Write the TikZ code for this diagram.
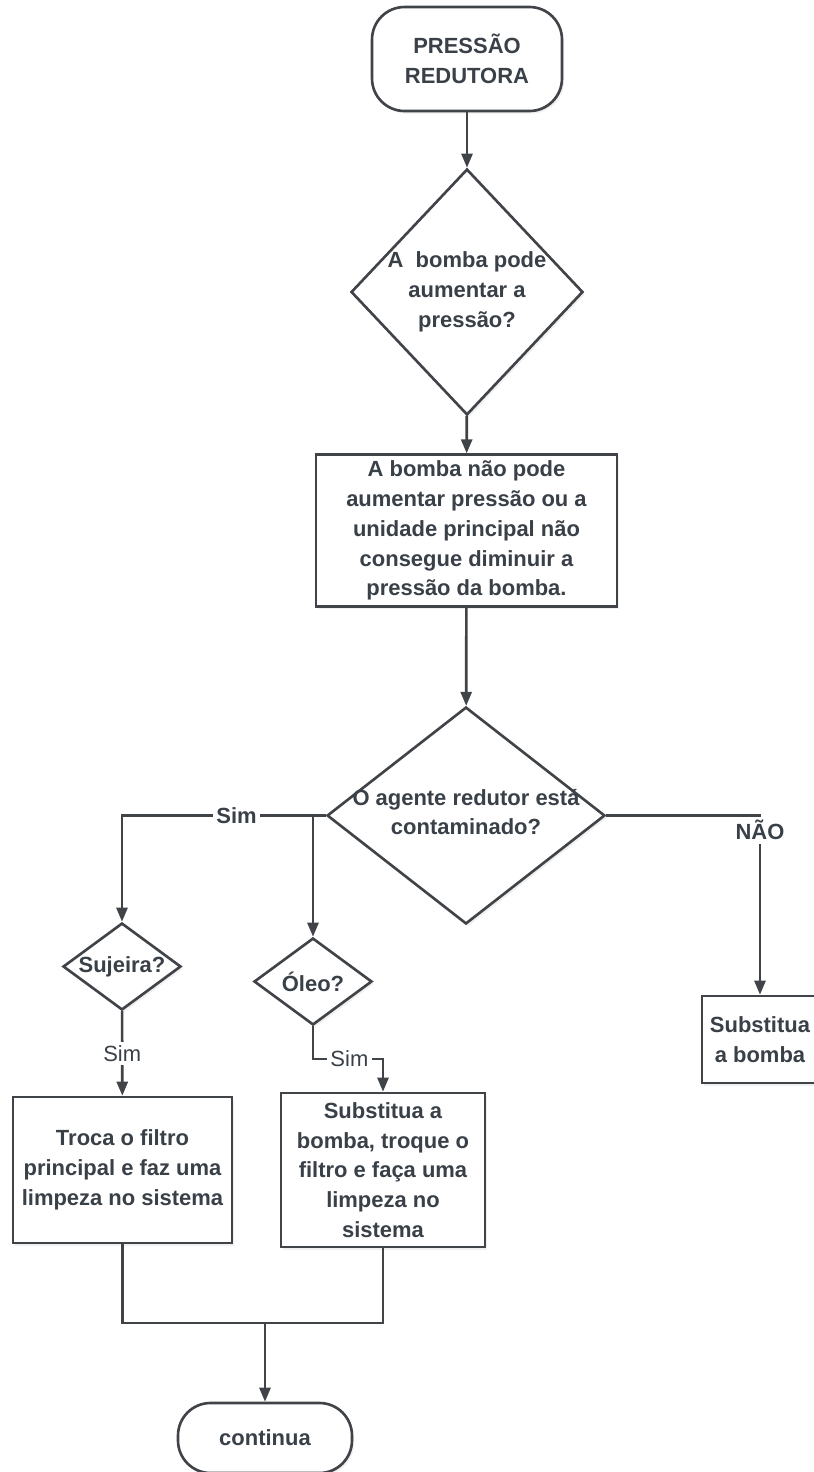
\documentclass[tikz,border=0pt]{standalone}
\usepackage{fontspec}
\setmainfont{Liberation Sans}
\usetikzlibrary{shapes.geometric,arrows.meta,shadows}
\definecolor{linegray}{HTML}{404347}
\definecolor{textgray}{HTML}{3A4048}
\newcommand{\chartfont}{\fontsize{12.5}{17}\selectfont}
\begin{document}
\begin{tikzpicture}[x=0.02cm,y=-0.02cm,
    link/.style = {line width=1.5pt,draw=linegray},
    arrow/.style = {link,-{Triangle[length=0.28cm,width=0.22cm]}},
    shade/.style = {drop shadow={opacity=0.12,shadow xshift=1.2pt,shadow yshift=-1.5pt}},
    terminal/.style = {draw=linegray,line width=1.5pt,fill=white,shade,rounded corners=0.65cm,
        align=center,text=textgray,font=\chartfont\bfseries},
    process/.style = {draw=linegray,line width=1.5pt,fill=white,shade,
        align=center,text=textgray,font=\chartfont\bfseries},
    decision/.style = {diamond,draw=linegray,line width=1.5pt,fill=white,shade,inner sep=0pt},
    qtext/.style = {align=center,text=textgray,font=\chartfont\bfseries,inner sep=0pt},
    lbl/.style = {fill=white,inner sep=2pt,text=textgray,font=\chartfont},
    boldlbl/.style = {lbl,font=\chartfont\bfseries}]
    \useasboundingbox (0,0) rectangle (814,1472);

    \node[terminal,minimum width=3.8cm,minimum height=2.08cm] (start) at (467,59) {PRESSÃO\\REDUTORA};
    \node[decision,minimum width=4.64cm,minimum height=4.92cm] (d1) at (467,292) {};
    \node[qtext] (d1t) at (d1) {A\ \ bomba pode\\aumentar a\\pressão?};
    \node[process,minimum width=6.02cm,minimum height=2.94cm] (b1) at (466.5,530.5)
        {A bomba não pode\\aumentar pressão ou a\\unidade principal não\\consegue diminuir a\\pressão da bomba.};
    \node[decision,minimum width=5.56cm,minimum height=4.34cm] (d2) at (466,815.5) {};
    \node[qtext] (d2t) at (466,812) {O agente redutor está\\contaminado?};

    \node[decision,minimum width=2.36cm,minimum height=1.74cm] (s1) at (122,966.5) {};
    \node[qtext] (s1t) at (s1) {Sujeira?};
    \node[decision,minimum width=2.36cm,minimum height=1.74cm] (o1) at (313,981.5) {};
    \node[qtext] (o1t) at (o1) {Óleo?};
    \node[process,minimum width=2.32cm,minimum height=1.74cm] (b3) at (760,1039.5) {Substitua\\a bomba};

    \node[process,minimum width=4.38cm,minimum height=2.92cm] (bL) at (122.5,1170)
        {Troca o filtro\\principal e faz uma\\limpeza no sistema};
    \node[process,minimum width=4.08cm,minimum height=3.08cm] (bR) at (383,1170)
        {Substitua a\\bomba, troque o\\filtro e faça uma\\limpeza no\\sistema};
    \node[terminal,minimum width=3.48cm,minimum height=1.4cm] (end) at (265,1438) {continua};

    \coordinate (fork) at (313,815.5);
    \coordinate (obend) at (313,1059);
    \coordinate (merge) at (265,1323);

    \draw[arrow] (start) -- (d1);
    \draw[arrow] (d1) -- (b1);
    \draw[arrow] (b1) -- (d2);
    \draw[link] (d2.west) -- (fork);
    \draw[arrow] (fork) -| node[boldlbl,pos=0.2] {Sim} (s1.north);
    \draw[arrow] (fork) -- (o1.north);
    \draw[arrow] (d2.east) -| node[boldlbl,pos=0.5,anchor=north] {NÃO} (b3.north);
    \draw[arrow] (s1) -- node[lbl] {Sim} (bL);
    \draw[arrow] (o1.south) -- (obend) -| node[lbl,pos=0.26] {Sim} (bR.north);
    \draw[link] (bL.south) -- (bL.south |- merge) -| (bR.south);
    \draw[arrow] (merge) -- (end);
\end{tikzpicture}
\end{document}
